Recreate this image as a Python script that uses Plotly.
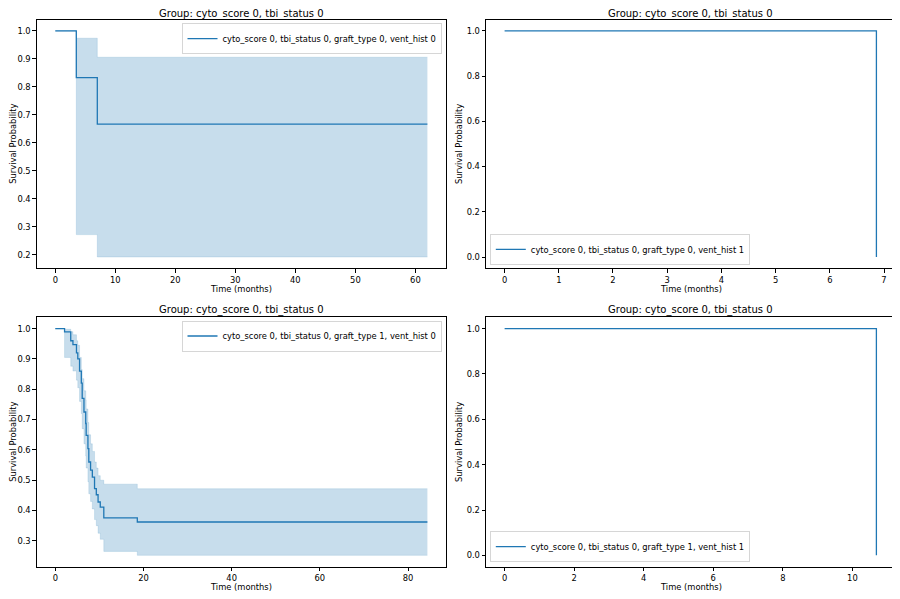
import plotly.graph_objects as go

# ---------------- data ----------------
tl_time = [0.0, 3.5, 7.0, 62.0]
tl_surv = [1.0, 0.833, 0.667, 0.667]
tl_lower = [1.0, 0.272, 0.192, 0.192]
tl_upper = [1.0, 0.974, 0.906, 0.906]

tr_time = [0.0, 6.86]
tr_surv = [1.0, 0.0]

bl_time = [0.0, 2.1, 3.5, 4.0, 4.8, 5.1, 5.5, 5.9, 6.1, 6.5, 6.9, 7.0, 7.4, 7.6,
           8.0, 8.4, 8.9, 9.3, 9.7, 10.2, 11.0, 18.6, 84.4]
bl_surv = [1.0, 0.989, 0.96, 0.947, 0.92, 0.90, 0.86, 0.82, 0.77, 0.725, 0.687, 0.648,
           0.604, 0.56, 0.533, 0.51, 0.472, 0.452, 0.428, 0.411, 0.376, 0.362, 0.362]
bl_lower = [1.0, 0.905, 0.876, 0.86, 0.83, 0.805, 0.76, 0.72, 0.67, 0.62, 0.58, 0.54,
            0.495, 0.455, 0.43, 0.405, 0.37, 0.35, 0.325, 0.305, 0.265, 0.252, 0.252]
bl_upper = [1.0, 0.998, 0.99, 0.98, 0.96, 0.945, 0.905, 0.865, 0.835, 0.795, 0.765, 0.735,
            0.69, 0.65, 0.62, 0.595, 0.56, 0.54, 0.515, 0.50, 0.487, 0.472, 0.472]

br_time = [0.0, 10.69]
br_surv = [1.0, 0.0]

titles = ["Group: cyto_score 0, tbi_status 0"] * 4
labels = [
    "cyto_score 0, tbi_status 0, graft_type 0, vent_hist 0",
    "cyto_score 0, tbi_status 0, graft_type 0, vent_hist 1",
    "cyto_score 0, tbi_status 0, graft_type 1, vent_hist 0",
    "cyto_score 0, tbi_status 0, graft_type 1, vent_hist 1",
]

# ---------------- style ----------------
OFF = 8  # default page margin of the html body
W, H = 900 - OFF, 599 - OFF
BLUE = "#1f77b4"
BAND = "rgba(31,119,180,0.25)"
BAND_EDGE = "rgba(31,119,180,0.18)"
FONT = "DejaVu Sans"
TICKF = 8.33

def px_x(p):
    return (p - OFF) / W

def px_y(p):
    return 1 - (p - OFF) / H

# axes boxes in page pixels (left, right, top, bottom)
boxes = [
    (36.7, 446.0, 19.6, 268.3),
    (486.0, 895.0, 19.6, 268.3),
    (36.7, 446.0, 317.3, 566.7),
    (486.0, 895.0, 317.3, 566.7),
]
title_y = [14.0, 14.0, 309.5, 309.5]
ylabel_x = [12.8, 459.0, 12.8, 459.0]
xranges = [[-3.1, 65.1], [-0.343, 7.203], [-4.22, 88.62], [-0.535, 11.225]]
yranges = [[0.1516, 1.0404], [-0.05, 1.05], [0.2146, 1.0374], [-0.05, 1.05]]
xdticks = [10, 1, 20, 2]
ydticks = [0.1, 0.2, 0.1, 0.2]
ytick0 = [0.2, 0.0, 0.3, 0.0]

fig = go.Figure()

def add_band(idx, t, lo, hi):
    xa = "x" if idx == 0 else f"x{idx+1}"
    ya = "y" if idx == 0 else f"y{idx+1}"
    fig.add_trace(go.Scatter(x=t, y=lo, mode="lines", line=dict(shape="hv", width=0.8, color=BAND_EDGE),
                             xaxis=xa, yaxis=ya, showlegend=False, hoverinfo="skip"))
    fig.add_trace(go.Scatter(x=t, y=hi, mode="lines", line=dict(shape="hv", width=0.8, color=BAND_EDGE),
                             fill="tonexty", fillcolor=BAND,
                             xaxis=xa, yaxis=ya, showlegend=False, hoverinfo="skip"))

def add_line(idx, t, s, name):
    xa = "x" if idx == 0 else f"x{idx+1}"
    ya = "y" if idx == 0 else f"y{idx+1}"
    lg = "legend" if idx == 0 else f"legend{idx+1}"
    fig.add_trace(go.Scatter(x=t, y=s, mode="lines", name=name,
                             line=dict(shape="hv", width=1.3, color=BLUE),
                             xaxis=xa, yaxis=ya, legend=lg, showlegend=True))

add_band(0, tl_time, tl_lower, tl_upper)
add_line(0, tl_time, tl_surv, labels[0])
add_line(1, tr_time, tr_surv, labels[1])
add_band(2, bl_time, bl_lower, bl_upper)
add_line(2, bl_time, bl_surv, labels[2])
add_line(3, br_time, br_surv, labels[3])

layout = dict(
    width=W, height=H,
    margin=dict(l=0, r=0, t=0, b=0, autoexpand=False),
    paper_bgcolor="white", plot_bgcolor="white",
    font=dict(family=FONT, size=TICKF, color="#000000"),
    showlegend=True,
)

annotations = []
for i, (l, r, t, b) in enumerate(boxes):
    sx = "" if i == 0 else str(i + 1)
    layout["xaxis" + sx] = dict(
        domain=[px_x(l), px_x(r)], range=xranges[i], anchor="y" + sx, automargin=False,
        showline=True, mirror=True, linecolor="#000000", linewidth=0.8,
        ticks="outside", ticklen=3.5, tickwidth=0.8, tickcolor="#000000",
        tick0=0, dtick=xdticks[i], showgrid=False, zeroline=False,
        tickfont=dict(family=FONT, size=TICKF, color="#000000"),
    )
    layout["yaxis" + sx] = dict(
        domain=[px_y(b), px_y(t)], range=yranges[i], anchor="x" + sx, automargin=False,
        showline=True, mirror=True, linecolor="#000000", linewidth=0.8,
        ticks="outside", ticklen=3.5, tickwidth=0.8, tickcolor="#000000",
        tick0=ytick0[i], dtick=ydticks[i], tickformat=".1f",
        showgrid=False, zeroline=False,
        tickfont=dict(family=FONT, size=TICKF, color="#000000"),
    )
    cx = (l + r) / 2
    cy = (t + b) / 2
    annotations.append(dict(text=titles[i], x=px_x(cx), y=px_y(title_y[i]), xref="paper", yref="paper",
                            xanchor="center", yanchor="middle", showarrow=False,
                            font=dict(family=FONT, size=10, color="#000000")))
    annotations.append(dict(text="Time (months)", x=px_x(cx), y=px_y(b + 20.3), xref="paper", yref="paper",
                            xanchor="center", yanchor="middle", showarrow=False,
                            font=dict(family=FONT, size=TICKF, color="#000000")))
    annotations.append(dict(text="Survival Probability", x=px_x(ylabel_x[i]), y=px_y(cy), xref="paper", yref="paper",
                            xanchor="center", yanchor="middle", showarrow=False, textangle=-90,
                            font=dict(family=FONT, size=TICKF, color="#000000")))
layout["annotations"] = annotations

leg_common = dict(bgcolor="rgba(255,255,255,0.8)", bordercolor="#cccccc", borderwidth=0.8,
                  font=dict(family=FONT, size=TICKF, color="#000000"), itemwidth=30,
                  tracegroupgap=0, xref="paper", yref="paper")
layout["legend"] = dict(x=px_x(441.7), y=px_y(23.3), xanchor="right", yanchor="top", **leg_common)
layout["legend2"] = dict(x=px_x(490.0), y=px_y(265.0), xanchor="left", yanchor="bottom", **leg_common)
layout["legend3"] = dict(x=px_x(441.7), y=px_y(320.7), xanchor="right", yanchor="top", **leg_common)
layout["legend4"] = dict(x=px_x(490.0), y=px_y(562.3), xanchor="left", yanchor="bottom", **leg_common)

fig.update_layout(**layout)
fig.write_html("out.html")
